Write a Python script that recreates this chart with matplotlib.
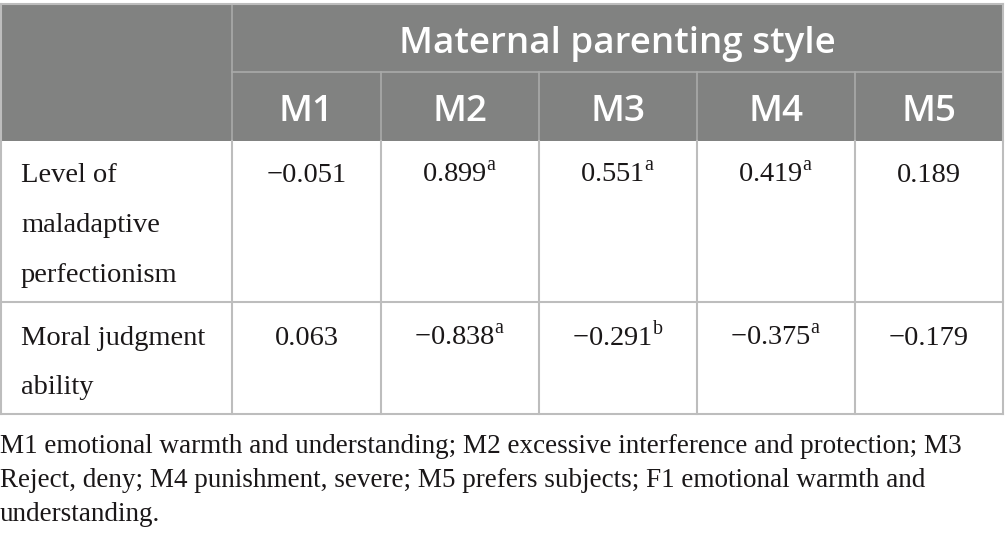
import matplotlib.pyplot as plt
from matplotlib.patches import Rectangle

# data
#
header = 'Maternal parenting style'
columns = ['M1', 'M2', 'M3', 'M4', 'M5']
row_labels = [['Level of', 'maladaptive', 'perfectionism'],
              ['Moral judgment', 'ability']]
values = [['\u22120.051', '0.899', '0.551', '0.419', '0.189'],
          ['0.063', '\u22120.838', '\u22120.291', '\u22120.375', '\u22120.179']]
marks = [['', 'a', 'a', 'a', ''],
         ['', 'a', 'b', 'a', '']]
footnote = ['M1 emotional warmth and understanding; M2 excessive interference and protection; M3',
            'Reject, deny; M4 punishment, severe; M5 prefers subjects; F1 emotional warmth and',
            'understanding.']

# layout (pixels)
#
col_x = [1, 232, 381, 539, 697, 855, 1003]
top, mid, head_bot = 4, 72, 141
row_y = [141, 302, 414]
gray = '#818281'
line = '#bdbdbd'
ink = '#1a1718'
serif = ['Liberation Serif', 'DejaVu Serif']
sans = ['Open Sans', 'DejaVu Sans']

plt.rcParams['mathtext.fontset'] = 'custom'
plt.rcParams['mathtext.rm'] = 'Liberation Serif'

fig = plt.figure(figsize=(10.05, 5.41), dpi=100)
ax = fig.add_axes([0, 0, 1, 1])
ax.set_xlim(0, 1005)
ax.set_ylim(541, 0)
ax.axis('off')

# header
#
ax.add_patch(Rectangle((col_x[0], top), col_x[-1] - col_x[0], head_bot - top,
                       facecolor=gray, edgecolor='none'))
ax.plot([col_x[1], col_x[-1]], [mid, mid], color='#a9aaa9', lw=1.2)
for x in col_x[2:-1]:
    ax.plot([x, x], [mid, head_bot], color='#a9aaa9', lw=1.2)
ax.plot([col_x[1], col_x[1]], [top, head_bot], color='#a9aaa9', lw=1.2)
ax.text((col_x[1] + col_x[-1]) / 2, 53, header, color='white', family=sans,
        fontsize=26.5, fontweight='semibold', ha='center', va='baseline')
for i, c in enumerate(columns):
    ax.text((col_x[i + 1] + col_x[i + 2]) / 2, 121, c, color='white', family=sans,
            fontsize=26.5, fontweight='semibold', ha='center', va='baseline')

# grid lines
#
ax.plot([col_x[0], col_x[-1]], [top, top], color=line, lw=1.5)
for y in row_y[1:]:
    ax.plot([col_x[0], col_x[-1]], [y, y], color=line, lw=1.5)
for x in col_x:
    ax.plot([x, x], [row_y[0], row_y[-1]], color=line, lw=1.5)
for x in (col_x[0], col_x[-1]):
    ax.plot([x, x], [top, head_bot], color=line, lw=1.5)

# body
#
first_base = [182.5, 345]
for r in range(2):
    for k, txt in enumerate(row_labels[r]):
        ax.text(21, first_base[r] + k * 49.5, txt, color=ink, family=serif,
                fontsize=20.5, ha='left', va='baseline')
    for i in range(5):
        s = values[r][i]
        if marks[r][i]:
            s = s + r'$^{\mathrm{' + marks[r][i] + '}}$'
        ax.text((col_x[i + 1] + col_x[i + 2]) / 2, first_base[r], s, color=ink,
                family=serif, fontsize=20.5, ha='center', va='baseline')

# footnote
#
for k, txt in enumerate(footnote):
    ax.text(0, 453 + k * 34, txt, color=ink, family=serif, fontsize=19.5,
            ha='left', va='baseline')

plt.savefig('out.png', dpi=100)
